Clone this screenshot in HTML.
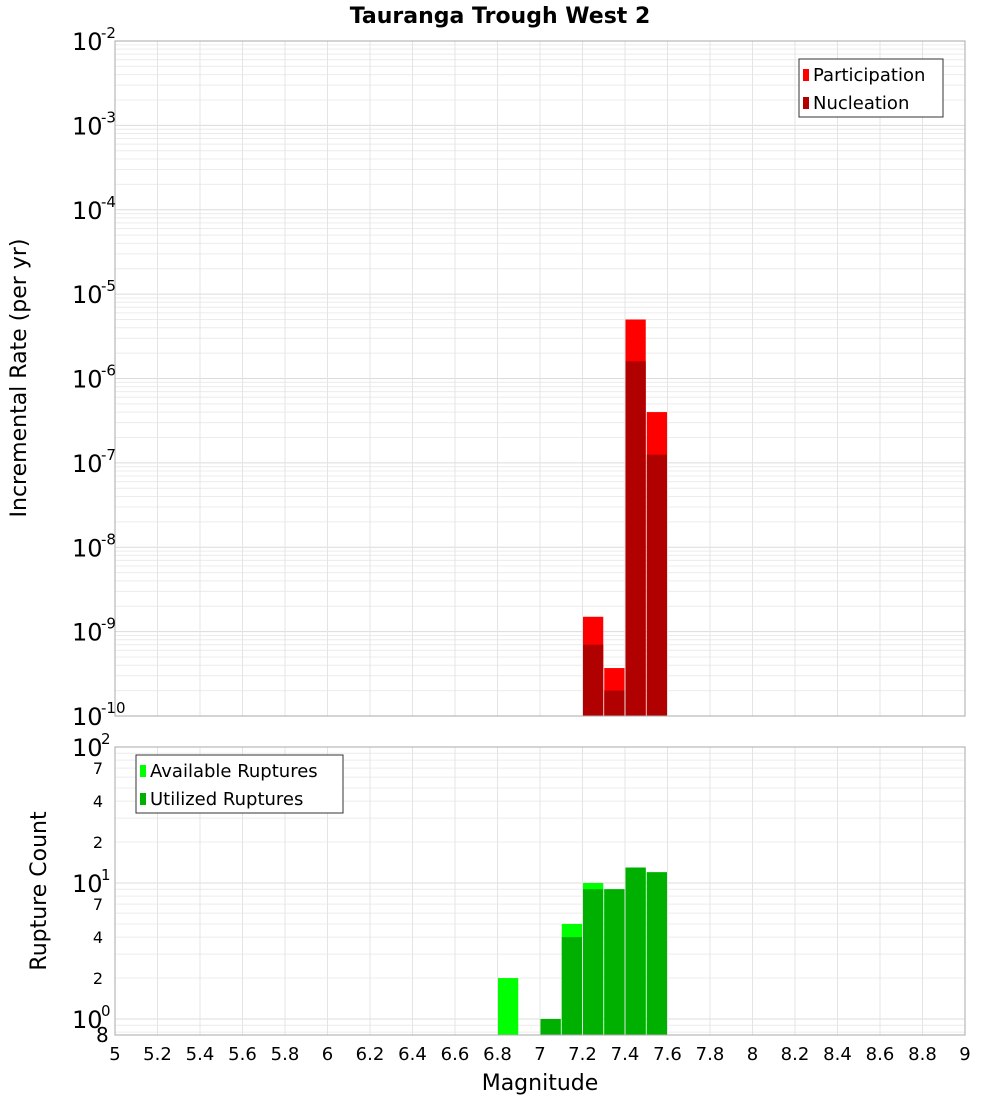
<!DOCTYPE html>
<html><head><meta charset="utf-8"><style>
body{margin:0;background:#fff;font-family:"Liberation Sans","DejaVu Sans",sans-serif}
svg text{font-family:"DejaVu Sans","Liberation Sans",sans-serif}
</style></head><body>
<svg id="c" width="1000" height="1100" xmlns="http://www.w3.org/2000/svg"></svg>
<script>
const magBins=[7.25,7.35,7.45,7.55];
const participation=[1.5e-9,3.7e-10,5e-6,4e-7];
const nucleation=[7e-10,2e-10,1.6e-6,1.25e-7];
const countBins=[6.85,7.05,7.15,7.25,7.35,7.45,7.55];
const available=[2,1,5,10,9,13,12];
const utilized=[0,1,4,9,9,13,12];
const xTicks=[5,5.2,5.4,5.6,5.8,6,6.2,6.4,6.6,6.8,7,7.2,7.4,7.6,7.8,8,8.2,8.4,8.6,8.8,9];
const topDecades=[-2,-3,-4,-5,-6,-7,-8,-9,-10];
const botMinor=[[2,978],[4,937],[7,904]];

const NS="http://www.w3.org/2000/svg";
const svg=document.getElementById('c');
function el(t,a,p){const e=document.createElementNS(NS,t);for(const k in a)e.setAttribute(k,a[k]);(p||svg).appendChild(e);return e;}
const X0=115,X1=965;
const x=m=>X0+(m-5)/4*(X1-X0);
const T0=41,T1=716;
const yT=v=>T0+(-2-Math.log10(v))/8*(T1-T0);
const B0=747,B1=1035;
const yB=v=>B0+(2-Math.log10(v))*136;

// title
let t=el('text',{x:500,y:23,'text-anchor':'middle','font-size':22,'font-weight':'bold'});t.textContent='Tauranga Trough West 2';


function grid(top,bot,yf,decs){
  const g=el('g',{});
  
  for(const d of decs){for(let k=1;k<10;k++){const v=k*Math.pow(10,d);const yy=yf(v);if(yy<top-0.5||yy>bot+0.5)continue;
    el('line',{x1:X0,x2:X1,y1:yy,y2:yy,stroke:k==1?'#dcdcdc':'#ececec','stroke-width':1},g);}}
  for(const m of xTicks){el('line',{x1:x(m),x2:x(m),y1:top,y2:bot,stroke:'#e4e4e4'},g);}
}
grid(T0,T1,yT,[-10,-9,-8,-7,-6,-5,-4,-3,-2]);
grid(B0,B1,yB,[-1,0,1,2]);

// top bars
const bw=(x(5.1)-x(5))/2;
magBins.forEach((m,i)=>{
  let r=el('rect',{x:x(m)-bw+0.5,y:yT(participation[i]),width:2*bw-1,height:T1-yT(participation[i]),fill:'#ff0000'});
  
  r=el('rect',{x:x(m)-bw+0.5,y:yT(nucleation[i]),width:2*bw-1,height:T1-yT(nucleation[i]),fill:'#b00000'});
  
});
countBins.forEach((m,i)=>{
  if(available[i]>0){let r=el('rect',{x:x(m)-bw+0.5,y:yB(available[i]),width:2*bw-1,height:B1-yB(available[i]),fill:'#00ff00'});
  }
  if(utilized[i]>0){let r=el('rect',{x:x(m)-bw+0.5,y:yB(utilized[i]),width:2*bw-1,height:B1-yB(utilized[i]),fill:'#00b000'});
  }
});

// frames
let f=el('rect',{x:X0,y:T0,width:X1-X0,height:T1-T0,fill:'none',stroke:'#aaa'});
f=el('rect',{x:X0,y:B0,width:X1-X0,height:B1-B0,fill:'none',stroke:'#aaa'});

// top y labels
topDecades.forEach(d=>{
  const yy=yT(Math.pow(10,d));
  let tx=el('text',{x:72,y:yy+9,'font-size':24});tx.textContent='10';
  
  let s=el('text',{x:101,y:yy-3,'font-size':15});s.textContent=String(d);
  
});
// bottom y labels
[[2,'2'],[1,'1'],[0,'0']].forEach(([d,e])=>{
  const yy=yB(Math.pow(10,d));
  let tx=el('text',{x:72,y:yy+9,'font-size':24});tx.textContent='10';
  
  let s=el('text',{x:101,y:yy-3,'font-size':15});s.textContent=e;
  
});
botMinor.concat([[20,978-136],[40,937-136],[70,904-136]]).forEach(([v])=>{
  const yy=yB(v);const lbl=String(v).charAt(0);
  let tx=el('text',{x:103,y:yy+6,'text-anchor':'end','font-size':16});tx.textContent=lbl;
  
});
let e8=el('text',{x:96,y:1042,'font-size':20});e8.textContent='8';


// x labels
xTicks.forEach(m=>{
  let tx=el('text',{x:x(m),y:1060,'text-anchor':'middle','font-size':18});tx.textContent=String(m);
  
});
let xl=el('text',{x:540,y:1090,'text-anchor':'middle','font-size':22});xl.textContent='Magnitude';

let yl=el('text',{x:0,y:0,'text-anchor':'middle','font-size':22,transform:'translate(26,378) rotate(-90)'});yl.textContent='Incremental Rate (per yr)';

let yl2=el('text',{x:0,y:0,'text-anchor':'middle','font-size':22,transform:'translate(46,891) rotate(-90)'});yl2.textContent='Rupture Count';


// legends
function legend(x0,y0,w,items,name){
  const g=el('g',{});
  el('rect',{x:x0,y:y0,width:w,height:58,fill:'#fff',stroke:'#333'},g);
  items.forEach(([c,l],i)=>{
    el('rect',{x:x0+4,y:y0+10+i*28,width:6,height:12,fill:c},g);
    const tx=el('text',{x:x0+14,y:y0+22+i*28,'font-size':18},g);tx.textContent=l;
  });
}
legend(799,59,144,[['#ff0000','Participation'],['#b00000','Nucleation']],'top-legend');
legend(136,755,207,[['#00ff00','Available Ruptures'],['#00b000','Utilized Ruptures']],'bottom-legend');
</script>
</body></html>
